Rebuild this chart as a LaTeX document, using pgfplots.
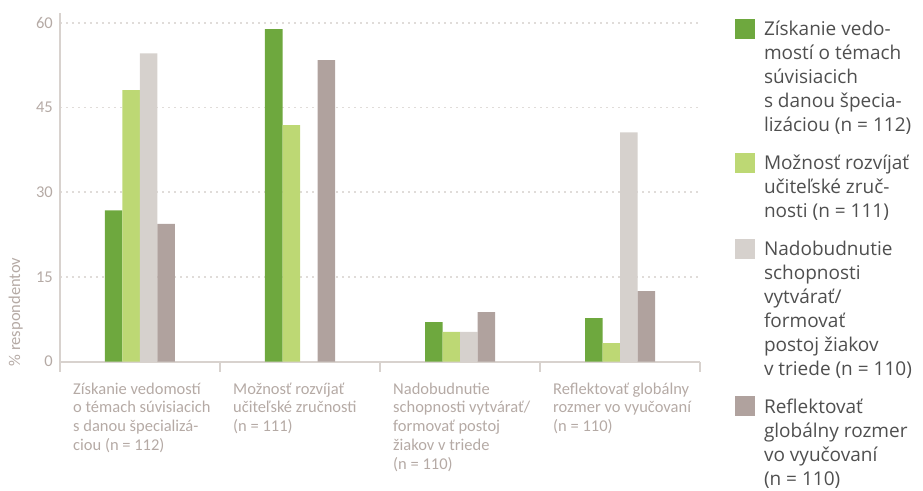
\documentclass[border=0pt]{standalone}
\usepackage{pgfplots}
\pgfplotsset{compat=1.18}
\usepackage{fontspec}
\setmainfont{Carlito}
\newfontfamily\legfont{Open Sans}
\definecolor{cA}{HTML}{6EA83E}
\definecolor{cB}{HTML}{BDD874}
\definecolor{cC}{HTML}{D6D1CD}
\definecolor{cD}{HTML}{B0A29E}
\definecolor{axcol}{HTML}{D8D2CE}
\definecolor{gridcol}{HTML}{E0DCD9}
\definecolor{txtcol}{HTML}{B5AAA5}
\definecolor{legtxt}{HTML}{4F4F4F}
\newcommand{\fs}{\rule{0pt}{13bp}}
\newcommand{\ls}{\rule{0pt}{18bp}}
\newcommand{\ld}{\rule[-6bp]{0pt}{6bp}}
\begin{document}
\begin{tikzpicture}
\useasboundingbox (-60bp,-129.3bp) rectangle (863bp,361.7bp);
\begin{axis}[
  scale only axis, width=640bp, height=349bp,
  xmin=-0.5, xmax=3.5, ymin=0, ymax=61.8,
  axis lines*=left,
  axis line style={draw=axcol, line width=1.6bp},
  ybar=0pt, bar width=17.5bp,
  ytick={0,15,30,45,60},
  /pgf/number format/assume math mode=true,
  xtick={-0.5,0.5,1.5,2.5,3.5},
  xticklabels={{\fs Získanie vedomostí\\o témach súvisiacich\\s danou špecializá-\\ciou (n = 112)},
               {\fs Možnosť rozvíjať\\učiteľské zručnosti\\(n = 111)},
               {\fs Nadobudnutie\\schopnosti vytvárať/\\formovať postoj\\žiakov v triede\\(n = 110)},
               {\fs Reflektovať globálny\\rozmer vo vyučovaní\\(n = 110)},{}},
  xtick align=outside, ytick align=inside,
  major tick length=10bp,
  xtick style={draw=axcol, line width=1.6bp},
  ytick style={draw=none},
  ymajorgrids,
  grid style={draw=gridcol, line width=1.6bp, dash pattern=on 1.6bp off 4.4bp},
  ticklabel style={text=txtcol, font=\fontsize{16.5bp}{18.7bp}\selectfont},
  yticklabel style={anchor=east, inner sep=0pt, xshift=-7bp},
  xticklabel style={anchor=north west, align=left, inner sep=0pt, xshift=13bp, yshift=-9.3bp},
  ylabel={\% respondentov},
  ylabel style={at={(axis description cs:-0.069,-0.014)}, anchor=west, inner sep=0pt,
                text=txtcol, font=\fontsize{16.5bp}{18.7bp}\selectfont},
  legend style={at={(axis description cs:1.0547,0.9862)}, anchor=north west,
                draw=none, fill=none, inner sep=0pt, outer sep=0pt,
                row sep=18.5bp, column sep=9bp,
                cells={anchor=north west},
                nodes={inner sep=0pt, outer sep=0pt, align=left, text=legtxt,
                       font=\legfont\fontsize{19bp}{24bp}\selectfont}},
  every axis plot post/.append style={draw=none,
     legend image code/.code={\fill[##1] (0bp,-1bp) rectangle (20bp,-21bp);}},
]
\addplot[fill=cA] coordinates {(0,26.8) (1,58.9) (2,7.0) (3,7.7)};
\addplot[fill=cB] coordinates {(0,48.1) (1,41.9) (2,5.3) (3,3.3)};
\addplot[fill=cC] coordinates {(0,54.6) (2,5.3) (3,40.6)};
\addplot[fill=cD] coordinates {(0,24.4) (1,53.4) (2,8.8) (3,12.5)};
\addlegendentry{\ls Získanie vedo-\\mostí o témach\\súvisiacich\\s danou špecia-\\lizáciou (n = 112)\ld}
\addlegendentry{\ls Možnosť rozvíjať\\učiteľské zruč-\\nosti (n = 111)\ld}
\addlegendentry{\ls Nadobudnutie\\schopnosti\\vytvárať/\\formovať\\postoj žiakov\\v triede (n = 110)\ld}
\addlegendentry{\ls Reflektovať\\globálny rozmer\\vo vyučovaní\\(n = 110)}
\end{axis}
\end{tikzpicture}
\end{document}
